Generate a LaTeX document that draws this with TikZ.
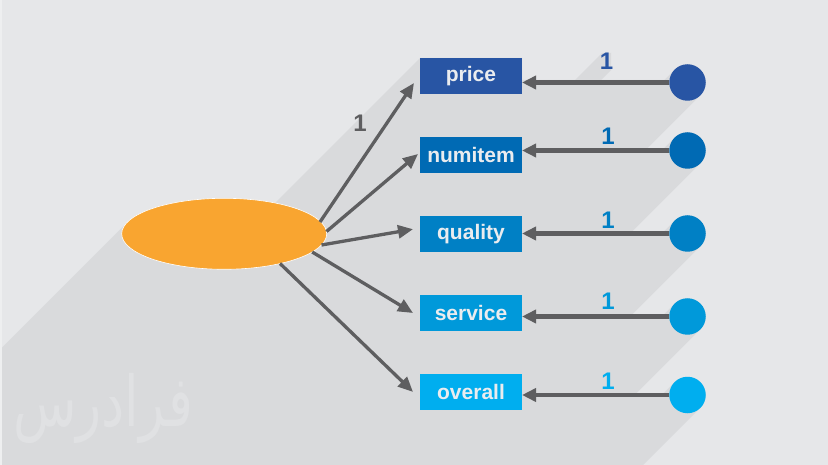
\documentclass[tikz,border=0pt]{standalone}
\usepackage{fontspec}
\setmainfont{Liberation Sans}
\newfontfamily\arabicfont[Script=Arabic]{DejaVu Sans}
\TeXXeTstate=1
\usetikzlibrary{shapes.geometric,arrows.meta,calc}
\definecolor{bgc}{HTML}{E6E7E9}
\definecolor{shadowc}{HTML}{D9DADC}
\definecolor{stripc}{HTML}{EEEFF0}
\definecolor{wmc}{HTML}{E0E1E3}
\definecolor{cA}{HTML}{2855A4}
\definecolor{cB}{HTML}{006AB4}
\definecolor{cC}{HTML}{0080C5}
\definecolor{cD}{HTML}{0099DA}
\definecolor{cE}{HTML}{00AEEF}
\definecolor{arrc}{HTML}{5E5E60}
\definecolor{orc}{HTML}{F9A530}
\definecolor{txc}{HTML}{EAECEF}
\newcommand\myrsh[4]{\fill[shadowc] (#1,#2) -- (#3,#2) -- (#3,#4) -- ({#3-600},{#4+600}) -- ({#1-600},{#2+600}) -- cycle;}
\newcommand\mycsh[3]{\fill[shadowc] ({#1-0.7071*#3},{#2-0.7071*#3}) -- ({#1+0.7071*#3},{#2+0.7071*#3}) -- ({#1+0.7071*#3-600},{#2+0.7071*#3+600}) -- ({#1-0.7071*#3-600},{#2-0.7071*#3+600}) -- cycle; \fill[shadowc] (#1,#2) circle[radius=#3];}
\begin{document}
\begin{tikzpicture}[x=1pt,y=-1pt,
  varbox/.style={rectangle, minimum width=102pt, minimum height=36pt, inner sep=0pt, outer sep=0pt,
    text=txc, font=\bfseries\fontsize{21}{21}\selectfont},
  errdot/.style={circle, minimum size=36.5pt, inner sep=0pt, outer sep=0pt},
  onelab/.style={inner sep=0pt, font=\bfseries\fontsize{24}{24}\selectfont},
  loadarr/.style={draw=arrc, line width=3.3pt, -{Triangle[length=15pt,width=13pt]}},
  errarr/.style={draw=arrc, line width=4.3pt, -{Triangle[length=14pt,width=13pt]}}]
\path[use as bounding box, fill=bgc] (0,0) rectangle (828,465);
\begin{scope}
\clip (0,0) rectangle (828,465);
% ellipse shadow
\fill[shadowc] (127.4,222.2) -- (321,245.4) -- (-279,845.4) -- (-472.6,822.2) -- cycle;
\fill[shadowc] (224.2,233.8) ellipse [x radius=102.5, y radius=35.5];
% box shadows
\myrsh{420}{58}{522}{94}
\myrsh{420}{137}{522}{173}
\myrsh{420}{216}{522}{252}
\myrsh{420}{295}{522}{331}
\myrsh{420}{374}{522}{410}
% line shadows
\myrsh{522}{80}{670}{84}
\myrsh{522}{148.5}{670}{152.5}
\myrsh{522}{231.5}{670}{235.5}
\myrsh{522}{314.5}{670}{318.5}
\myrsh{522}{393}{670}{397}
% label shadow
\myrsh{602}{53}{611}{70}
% circle shadows
\mycsh{687.5}{82.5}{18.2}
\mycsh{687.5}{150.5}{18.2}
\mycsh{687.5}{233.5}{18.2}
\mycsh{687.5}{316.5}{18.2}
\mycsh{687.5}{395}{18.2}
\end{scope}
\fill[stripc] (0,0) rectangle (2,465);
% watermark
\node[font=\arabicfont\fontsize{50}{50}\selectfont, text=wmc, inner sep=0pt, xscale=1.04, yscale=1.4, transform shape] (wm) at (103,408) {\beginR فرادرس\endR};
% latent ellipse
\node[ellipse, fill=orc, draw=white, line width=0.6pt, minimum width=205pt, minimum height=71pt, inner sep=0pt] (e) at (224.2,233.8) {};
% boxes
\node[varbox, fill=cA] (b1) at (471,76.2) {price};
\node[varbox, fill=cB] (b2) at (471,154.9) {numitem};
\node[varbox, fill=cC] (b3) at (471,234.2) {quality};
\node[varbox, fill=cD] (b4) at (471,313) {service};
\node[varbox, fill=cE] (b5) at (471,392.4) {overall};
% error circles
\node[errdot, fill=cA] (d1) at (687.5,82.5) {};
\node[errdot, fill=cB] (d2) at (687.5,150.5) {};
\node[errdot, fill=cC] (d3) at (687.5,233.5) {};
\node[errdot, fill=cD] (d4) at (687.5,316.5) {};
\node[errdot, fill=cE] (d5) at (687.5,395) {};
% error arrows
\draw[errarr] (d1.west) -- (d1.west -| b1.east);
\draw[errarr] (d2.west) -- (d2.west -| b2.east);
\draw[errarr] (d3.west) -- (d3.west -| b3.east);
\draw[errarr] (d4.west) -- (d4.west -| b4.east);
\draw[errarr] (d5.west) -- (d5.west -| b5.east);
% loading arrows
\draw[loadarr] ($(e.center)+(95.8,-11.8)$) -- ($(b1.west)+(-6,6.8)$);
\draw[loadarr] ($(e.center)+(102.3,-2.3)$) -- ($(b2.west)+(-2,-0.9)$);
\draw[loadarr] ($(e.center)+(97.3,11.2)$) -- ($(b3.west)+(-7,-5)$);
\draw[loadarr] ($(e.center)+(88,18.2)$) -- ($(b4.west)+(-7,0)$);
\draw[loadarr] ($(e.center)+(55.8,29.7)$) -- ($(b5.west)+(-7,-0.5)$);
% labels
\node[onelab, text=arrc] (l0) at (360,123) {1};
\node[onelab, text=cA] (l1) at (606.5,61.7) {1};
\node[onelab, text=cB] (l2) at (608,136.7) {1};
\node[onelab, text=cC] (l3) at (608,220) {1};
\node[onelab, text=cD] (l4) at (608,301.7) {1};
\node[onelab, text=cE] (l5) at (608,381.7) {1};
\end{tikzpicture}
\end{document}
